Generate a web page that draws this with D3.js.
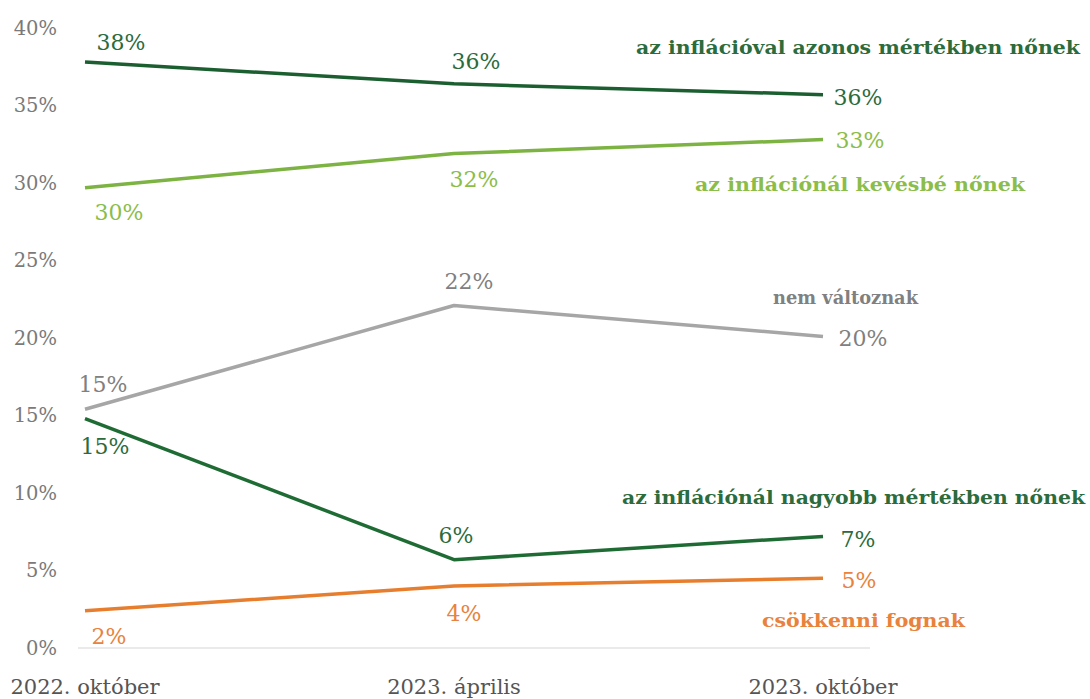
<!DOCTYPE html>
<html><head><meta charset="utf-8">
<script src="https://cdn.jsdelivr.net/npm/d3@7"></script>
<style>body{margin:0;background:#fff}</style>
</head><body>
<svg id="c" width="1090" height="699"></svg>
<script>
const categories = ["2022. október", "2023. április", "2023. október"];
const yTicks = [0, 5, 10, 15, 20, 25, 30, 35, 40];
const seriesNames = ["az inflációval azonos mértékben nőnek", "az inflációnál kevésbé nőnek", "nem változnak", "az inflációnál nagyobb mértékben nőnek", "csökkenni fognak"];
const azonos = [37.8, 36.4, 35.7];
const kevesbe = [29.7, 31.9, 32.8];
const nemValtoznak = [15.4, 22.1, 20.1];
const nagyobb = [14.8, 5.7, 7.2];
const csokkenni = [2.4, 4.0, 4.5];

const seriesValues = [azonos, kevesbe, nemValtoznak, nagyobb, csokkenni];
const lineColors = ["#1b5e30", "#7cb342", "#a6a6a6", "#1f6b34", "#e67e2e"];
const textColors = ["#2b6b3c", "#8bbd4a", "#808080", "#2b6b3c", "#e8823c"];
// label offsets (dx, dy) relative to points, per series per category
const valueOffsets = [
  [[36,-20],[22,-23],[35,3]],
  [[34,25],[20,26],[37,1]],
  [[18,-25],[15,-24],[40,2]],
  [[20,28],[2,-24],[35,3]],
  [[24,25],[10,27],[36,2]]
];
const nameBoxes = [[636,1080,48],[695,1025,185],[773,918,298],[622,1085,498],[762,965,621]];

const svg = d3.select("#c");
const x = d3.scalePoint().domain(categories).range([85, 823]);
const y = d3.scaleLinear().domain([0, 40]).range([648, 28]);
const font = "'DejaVu Serif', serif";

// baseline
svg.append("line").attr("x1", 78).attr("x2", 870).attr("y1", y(0)).attr("y2", y(0))
  .attr("stroke", "#e3e3e3").attr("stroke-width", 1.5);

// y tick labels
svg.append("g").selectAll("text").data(yTicks).join("text")
  .attr("x", 57).attr("y", d => y(d)).attr("dy", "0.35em")
  .attr("text-anchor", "end").attr("font-family", font).attr("font-size", 19.5)
  .attr("fill", "#7a7a7a").text(d => d + "%");

// x labels
svg.append("g").selectAll("text").data(categories).join("text")
  .attr("x", d => x(d)).attr("y", 687).attr("dy", "0.35em")
  .attr("text-anchor", "middle").attr("font-family", font).attr("font-size", 21)
  .attr("fill", "#555").text(d => d);

const line = d3.line().x((d, i) => x(categories[i])).y(d => y(d));

seriesValues.forEach((vals, s) => {
  svg.append("path").datum(vals).attr("d", line).attr("fill", "none")
    .attr("stroke", lineColors[s]).attr("stroke-width", 3.5).attr("stroke-linejoin", "round");
  svg.append("g").selectAll("text").data(vals).join("text")
    .attr("x", (d, i) => x(categories[i]) + valueOffsets[s][i][0])
    .attr("y", (d, i) => y(d) + valueOffsets[s][i][1]).attr("dy", "0.35em")
    .attr("text-anchor", "middle").attr("font-family", font).attr("font-size", 22)
    .attr("fill", textColors[s]).text(d => Math.round(d) + "%");
  const b = nameBoxes[s];
  svg.append("text").attr("x", b[0]).attr("y", b[2]).attr("dy", "0.35em")
    .attr("font-family", font).attr("font-weight", "bold").attr("font-size", 18.5)
    .attr("fill", textColors[s]).attr("textLength", b[1] - b[0]).attr("lengthAdjust", "spacingAndGlyphs")
    .text(seriesNames[s]);
});
</script>
</body></html>
